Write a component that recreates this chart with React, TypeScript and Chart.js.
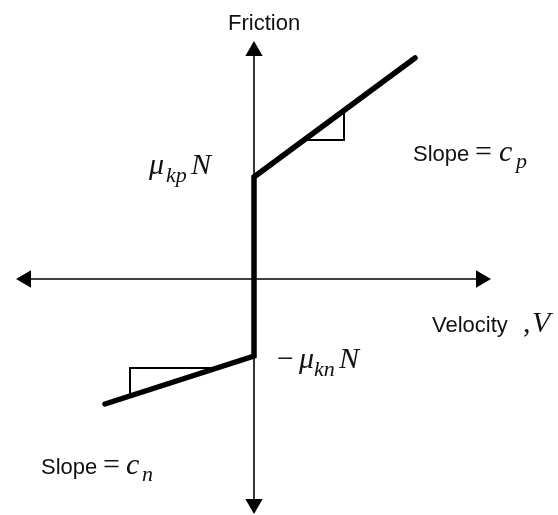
import React, { useEffect, useRef } from "react";
import { Chart, registerables } from "chart.js";

Chart.register(...registerables);

// Coordinates: origin at the crossing of the two axes, y upward.
const axisH_X = [-238, 237];
const axisV_Y = [-235, 238];

// Friction characteristic (velocity, friction)
const frictionV = [-149, 0, 0, 161];
const frictionF = [-125, -77, 102, 221];

// Slope triangles
const upperTriV = [50, 90, 90];
const upperTriF = [139, 139, 169];
const lowerTriV = [-37, -124, -124];
const lowerTriF = [-89, -89, -117];

const ARROW_R = 10;

const W = 558;
const H = 515;
const ORIGIN_PX = 254;
const ORIGIN_PY = 279;

type Piece = { t: string; x: number; y: number; font: string };

const SANS_FAM = '"Liberation Sans", Arial, Helvetica, sans-serif';
const SERIF_FAM = '"Liberation Serif", "Times New Roman", serif';
const sans = (s: number) => `${s}px ${SANS_FAM}`;
const serif = (s: number) => `${s}px ${SERIF_FAM}`;
const serifI = (s: number) => `italic ${s}px ${SERIF_FAM}`;

// label pieces in pixel layout (left x, baseline y)
const labelPieces: Piece[] = [
  { t: "Friction", x: 228, y: 30, font: sans(22) },
  { t: "\u03bc", x: 149, y: 174, font: serifI(30) },
  { t: "kp", x: 166, y: 182, font: serifI(22) },
  { t: "N", x: 191, y: 174, font: serifI(30) },
  { t: "Slope", x: 413, y: 161, font: sans(22) },
  { t: "=", x: 475, y: 161, font: serif(30) },
  { t: "c", x: 499, y: 161, font: serifI(30) },
  { t: "p", x: 516, y: 168, font: serifI(22) },
  { t: "Velocity", x: 432, y: 332, font: sans(22) },
  { t: ",", x: 523, y: 332, font: serif(30) },
  { t: "V", x: 532, y: 332, font: serifI(30) },
  { t: "\u2212", x: 277, y: 368, font: serif(30) },
  { t: "\u03bc", x: 299, y: 368, font: serifI(30) },
  { t: "kn", x: 314, y: 376, font: serifI(22) },
  { t: "N", x: 339, y: 368, font: serifI(30) },
  { t: "Slope", x: 41, y: 474, font: sans(22) },
  { t: "=", x: 103, y: 474, font: serif(30) },
  { t: "c", x: 126, y: 474, font: serifI(30) },
  { t: "n", x: 142, y: 481, font: serifI(22) },
];

const pts = (xs: number[], ys: number[]) => xs.map((x, i) => ({ x, y: ys[i] }));

const labelsPlugin = {
  id: "labels",
  afterDatasetsDraw(chart: any) {
    const ctx = chart.ctx;
    ctx.save();
    ctx.fillStyle = "#111";
    ctx.textBaseline = "alphabetic";
    ctx.textAlign = "left";
    for (const p of labelPieces) {
      ctx.font = p.font;
      ctx.fillText(p.t, p.x, p.y);
    }
    ctx.restore();
  },
};

export default function App() {
  const ref = useRef<HTMLCanvasElement | null>(null);
  useEffect(() => {
    if (!ref.current) return;
    const lineDs = (data: any[], width: number) => ({
      data,
      showLine: true,
      borderColor: "#000",
      backgroundColor: "#000",
      borderWidth: width,
      pointRadius: 0,
      pointHoverRadius: 0,
      borderCapStyle: "butt",
      borderJoinStyle: "miter",
      tension: 0,
      clip: false,
    });
    const arrowDs = {
      data: [
        { x: 0, y: axisV_Y[1] - ARROW_R },
        { x: axisH_X[1] - ARROW_R, y: 0 },
        { x: 0, y: axisV_Y[0] + ARROW_R },
        { x: axisH_X[0] + ARROW_R, y: 0 },
      ],
      showLine: false,
      pointStyle: "triangle",
      pointRadius: ARROW_R,
      pointRotation: [0, 90, 180, 270],
      backgroundColor: "#000",
      borderColor: "#000",
      borderWidth: 0,
      clip: false,
    };
    const chart = new Chart(ref.current, {
      type: "scatter",
      data: {
        datasets: [
          lineDs(pts([axisH_X[0] + ARROW_R, axisH_X[1] - ARROW_R], [0, 0]), 1.6),
          lineDs(pts([0, 0], [axisV_Y[0] + ARROW_R, axisV_Y[1] - ARROW_R]), 1.6),
          lineDs(pts(upperTriV, upperTriF), 2),
          lineDs(pts(lowerTriV, lowerTriF), 2),
          { ...lineDs(pts(frictionV, frictionF), 5.5), borderCapStyle: "round" },
          arrowDs,
        ] as any,
      },
      options: {
        responsive: false,
        animation: false,
        devicePixelRatio: 1,
        layout: { padding: 0, autoPadding: false },
        events: [],
        plugins: { legend: { display: false }, tooltip: { enabled: false } },
        scales: {
          x: { type: "linear", display: false, min: -ORIGIN_PX, max: W - ORIGIN_PX },
          y: { type: "linear", display: false, min: ORIGIN_PY - H, max: ORIGIN_PY },
        },
      } as any,
      plugins: [labelsPlugin],
    });
    return () => chart.destroy();
  }, []);
  return (
    <div style={{ position: "absolute", left: 0, top: 0, width: W, height: H, background: "#fff" }}>
      <canvas ref={ref} width={W} height={H} style={{ display: "block" }} />
    </div>
  );
}
